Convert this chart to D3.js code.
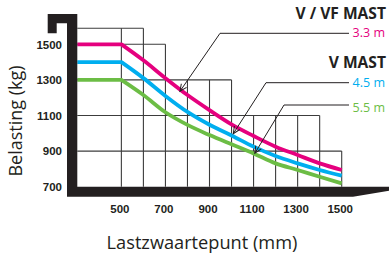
<!DOCTYPE html>
<html><head><meta charset="utf-8">
<script src="https://cdn.jsdelivr.net/npm/d3@7"></script>
<style>html,body{margin:0;padding:0;background:#fff;}svg{display:block;}</style>
</head><body>
<svg id="c" width="389" height="256"></svg>
<script>
// ---- data ----
const distances = [300, 400, 500, 600, 700, 800, 900, 1000, 1100, 1200, 1300, 1400, 1500];
const mast33 = [1500, 1500, 1500, 1410, 1310, 1215, 1130, 1050, 985, 925, 878, 831, 794];
const mast45 = [1400, 1400, 1400, 1310, 1210, 1120, 1048, 988, 925, 872, 831, 794, 762];
const mast55 = [1300, 1300, 1300, 1215, 1118, 1047, 990, 938, 887, 831, 794, 756, 719];
const seriesNames = ["3.3 m", "4.5 m", "5.5 m"];
const xTicks = [500, 700, 900, 1100, 1300, 1500];
const yTicks = [700, 900, 1100, 1300, 1500];
const gridLevels = [1590, 1500, 1300, 1100, 900];
const gridLevelEnds = [600, 700, 1000, 1400, 1500];
const gridVerticals = [500, 600, 700, 800, 900, 1000, 1100, 1200, 1300, 1400, 1500];
const arrowTargets = [[766, 1236], [1008, 998], [1106, 888]];

const colors = ["#e5007e", "#00aeef", "#6cbd45"];
const dark = "#231f20";

const svg = d3.select("#c");
const x = d3.scaleLinear().domain([300, 1500]).range([77.3, 341.7]);
const y = d3.scaleLinear().domain([700, 1500]).range([186.7, 44.3]);

// ---- staircase grid ----
const g = svg.append("g").attr("stroke", "#3c3c3c").attr("stroke-width", 1.1).attr("fill", "none");
gridLevels.forEach((lv, i) => {
  g.append("line").attr("x1", x(300)).attr("x2", x(gridLevelEnds[i]))
    .attr("y1", y(lv)).attr("y2", y(lv));
});
gridVerticals.forEach(v => {
  let top = 700;
  gridLevels.forEach((lv, i) => { if (gridLevelEnds[i] >= v && lv > top) top = lv; });
  g.append("line").attr("x1", x(v)).attr("x2", x(v)).attr("y1", y(700)).attr("y2", y(top));
});

// ---- curves ----
const lineLin = d3.line().x(d => x(d[0])).y(d => y(d[1]));
const lineMono = d3.line().x(d => x(d[0])).y(d => y(d[1])).curve(d3.curveMonotoneX);
[mast33, mast45, mast55].forEach((vals, i) => {
  const pts = distances.map((d, j) => [d, vals[j]]);
  const flat = pts.filter(p => p[0] <= 500);
  const rest = pts.filter(p => p[0] >= 500);
  const path = lineLin(flat) + lineMono(rest).replace(/^M/, "L");
  svg.append("path").attr("d", path).attr("fill", "none")
    .attr("stroke", colors[i]).attr("stroke-width", 3.8).attr("stroke-linejoin", "round");
});

// ---- mast shape ----
const mast = [[47.7,14],[77.3,14],[77.3,y(700)],[389,y(700)],[389,190.8],[353,196.7],[67,196.7],[67,23.3],[56.7,23.3],[56.7,33.3],[47.7,33.3]];
svg.append("path").attr("d", "M" + mast.map(p => p.join(",")).join("L") + "Z").attr("fill", dark);

// ---- ticks ----
svg.append("g").selectAll("text").data(yTicks).join("text")
  .attr("x", 62).attr("y", d => y(d) + 4.3).attr("text-anchor", "end")
  .attr("font-family", "Liberation Sans, Arial, sans-serif").attr("font-weight", "bold")
  .attr("font-size", 11.5).attr("fill", dark).text(d => d);
svg.append("g").selectAll("text").data(xTicks).join("text")
  .attr("x", d => x(d) - 1.5).attr("y", 213.3).attr("text-anchor", "middle")
  .attr("font-family", "Liberation Sans, Arial, sans-serif").attr("font-weight", "bold")
  .attr("font-size", 11.5).attr("fill", dark).text(d => d);

// ---- axis titles ----
svg.append("text").attr("transform", "translate(22,121) rotate(-90)")
  .attr("text-anchor", "middle").attr("font-family", "Open Sans, sans-serif")
  .attr("font-size", 18).attr("fill", dark).text("Belasting (kg)");
svg.append("text").attr("x", 202).attr("y", 249)
  .attr("text-anchor", "middle").attr("font-family", "Open Sans, sans-serif")
  .attr("font-size", 18.2).attr("fill", dark).text("Lastzwaartepunt (mm)");

// ---- legend headings ----
svg.append("text").attr("x", 386).attr("y", 19.3).attr("text-anchor", "end")
  .attr("font-family", "Open Sans, sans-serif").attr("font-weight", "bold")
  .attr("font-size", 15.6).attr("fill", dark).text("V / VF MAST");
svg.append("text").attr("x", 386).attr("y", 68.3).attr("text-anchor", "end")
  .attr("font-family", "Open Sans, sans-serif").attr("font-weight", "bold")
  .attr("font-size", 15.6).attr("fill", dark).text("V MAST");

// ---- leaders ----
const labelY = [33.3, 82.7, 105];
const elbowX = [220, 266, 284];
const labelBase = [36.9, 86.5, 111.5];
svg.append("defs").append("marker").attr("id", "ah").attr("viewBox", "-8 -5 10 10")
  .attr("refX", 0).attr("refY", 0).attr("markerWidth", 10).attr("markerHeight", 10)
  .attr("markerUnits", "userSpaceOnUse").attr("orient", "auto")
  .append("path").attr("d", "M-7,-3.2L0,0L-7,3.2").attr("fill", "none").attr("stroke", dark).attr("stroke-width", 1);
seriesNames.forEach((name, i) => {
  const t = arrowTargets[i];
  svg.append("path").attr("d", `M349,${labelY[i]}L${elbowX[i]},${labelY[i]}L${x(t[0])},${y(t[1])}`)
    .attr("fill", "none").attr("stroke", dark).attr("stroke-width", 1).attr("marker-end", "url(#ah)");
  svg.append("text").attr("x", 385).attr("y", labelBase[i]).attr("text-anchor", "end")
    .attr("font-family", "Open Sans, sans-serif").attr("font-size", 12.5)
    .attr("fill", colors[i]).text(name);
});
</script>
</body></html>
